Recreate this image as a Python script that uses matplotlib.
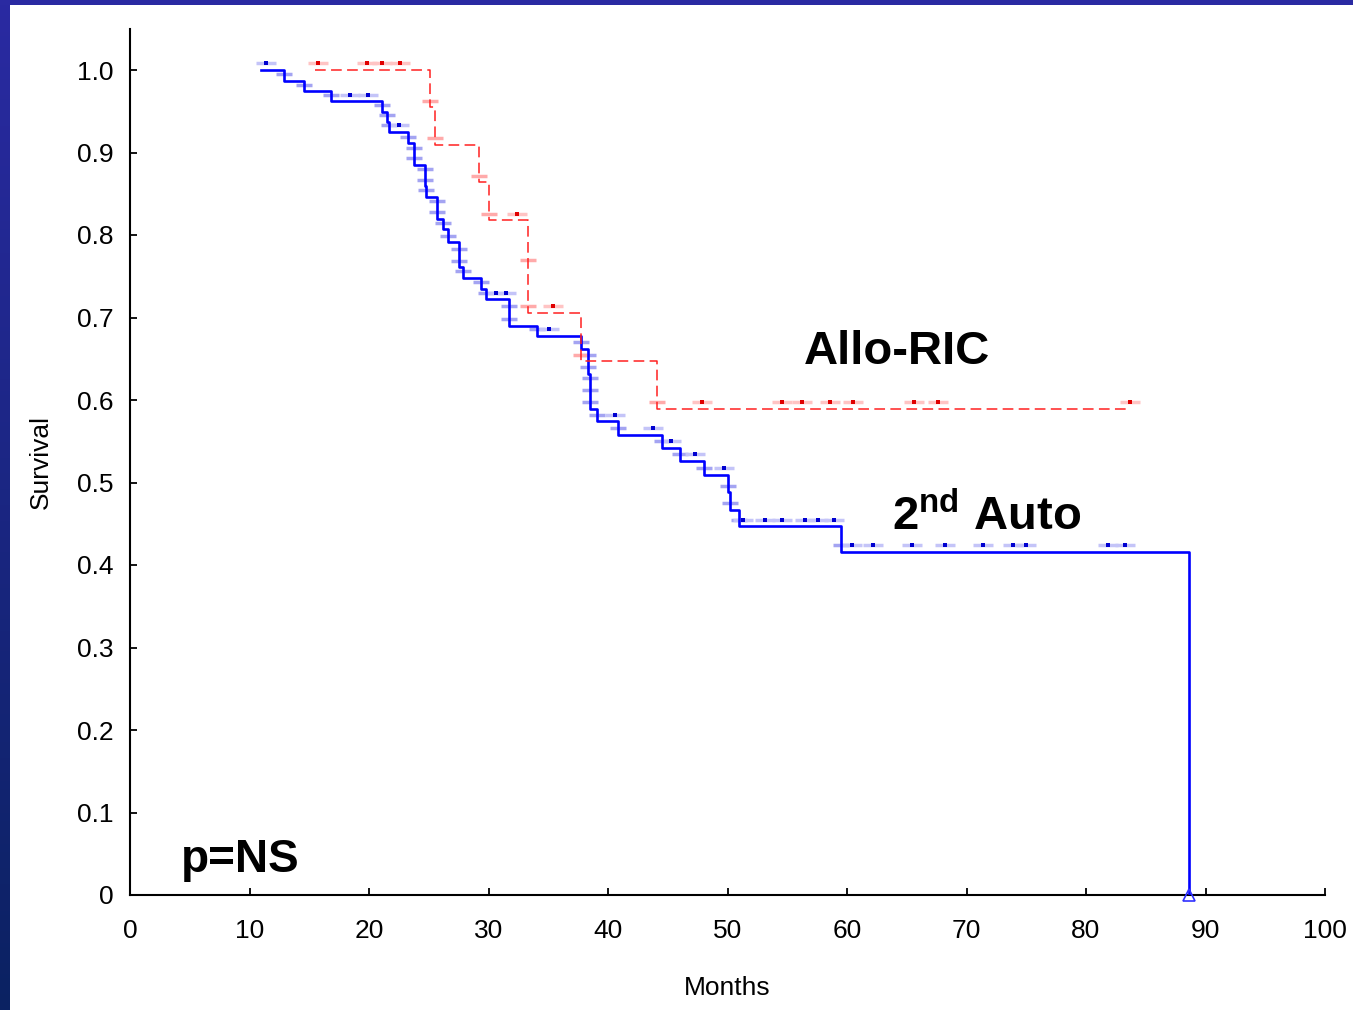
"""Kaplan-Meier survival: 2nd Auto vs Allo-RIC."""

import numpy as np
import matplotlib
matplotlib.use('Agg')
import matplotlib.pyplot as plt
from matplotlib.colors import LinearSegmentedColormap
from matplotlib.patches import Rectangle

from matplotlib import rc
rc('font', family=['Liberation Sans', 'DejaVu Sans'])
rc('mathtext', fontset='custom', rm='Liberation Sans', bf='Liberation Sans:bold')

# 2nd Auto arm: event times (months) and survival after each event
auto_start = 11.0
auto_event_t = [12.9, 14.6, 16.8, 21.1, 21.5, 21.7, 23.3, 23.8, 23.8, 24.7,
                24.7, 24.8, 25.7, 25.7, 26.2, 26.6, 27.5, 27.5, 27.9, 29.4,
                29.8, 31.7, 31.7, 34.1, 37.7, 38.3, 38.3, 38.5, 38.5, 38.5,
                39.1, 40.8, 44.5, 46.0, 48.0, 50.0, 50.2, 51.0, 59.5, 88.6]
auto_event_s = [0.987, 0.974, 0.962, 0.949, 0.937, 0.925, 0.911, 0.898, 0.885, 0.872,
                0.859, 0.846, 0.833, 0.820, 0.807, 0.791, 0.775, 0.761, 0.748, 0.735,
                0.722, 0.706, 0.690, 0.678, 0.662, 0.647, 0.632, 0.619, 0.604, 0.589,
                0.574, 0.558, 0.542, 0.526, 0.509, 0.488, 0.467, 0.447, 0.416, 0.0]
auto_cens_t = [11.4, 18.4, 19.9, 22.5, 30.6, 31.5, 35.1, 40.6, 43.8, 45.3,
               47.3, 49.7, 51.3, 53.1, 54.6, 56.5, 57.6, 58.9, 60.4, 62.2,
               65.4, 68.2, 71.4, 73.9, 75.0, 81.8, 83.3]

# Allo-RIC arm
allo_start = 15.5
allo_end = 83.7
allo_event_t = [25.1, 25.5, 29.2, 30.0, 33.3, 33.3, 37.7, 44.1]
allo_event_s = [0.955, 0.909, 0.864, 0.818, 0.762, 0.706, 0.647, 0.589]
allo_cens_t = [15.7, 19.8, 21.1, 22.6, 32.4, 35.4, 47.9, 54.6, 56.2, 58.6,
               60.5, 65.6, 67.6, 83.7]

x_ticks = [0, 10, 20, 30, 40, 50, 60, 70, 80, 90, 100]
y_ticks = [0, 0.1, 0.2, 0.3, 0.4, 0.5, 0.6, 0.7, 0.8, 0.9, 1.0]
y_ticklabels = ['0', '0.1', '0.2', '0.3', '0.4', '0.5', '0.6', '0.7', '0.8', '0.9', '1.0']


def level_at(t, ev_t, ev_s):
    i = np.searchsorted(ev_t, t, side='right')
    return 1.0 if i == 0 else ev_s[i - 1]


def draw_marks(ax, ev_t, ev_s, cens_t, bar_col, cens_bar_col, dot_col):
    off = 0.008
    et = [t for t, s in zip(ev_t, ev_s) if s > 0]
    es = [s + off for s in ev_s if s > 0]
    ax.plot(et, es, ls='none', marker='_', ms=12, mew=2.5, color=bar_col, zorder=2)
    cs = [level_at(t, ev_t, ev_s) + off for t in cens_t]
    ax.plot(cens_t, cs, ls='none', marker='_', ms=14, mew=2.5, color=cens_bar_col, zorder=2)
    ax.plot(cens_t, cs, ls='none', marker='s', ms=2.2, mew=0, color=dot_col, zorder=4)


def make_plot():
    fig = plt.figure(figsize=(13.53, 10.10), dpi=100)
    fig.patch.set_facecolor('white')

    # slide frame: gradient strip on the left, band on top
    strip = fig.add_axes([0, 0, 10 / 1353, 1])
    cmap = LinearSegmentedColormap.from_list('frame', ['#0b2262', '#2a2aa2'])
    strip.imshow(np.linspace(0, 1, 256).reshape(-1, 1), aspect='auto', cmap=cmap, origin='lower')
    strip.set_axis_off()
    fig.patches.append(Rectangle((0, 1 - 5 / 1010), 1, 5 / 1010, transform=fig.transFigure,
                                 facecolor='#2a2aa2', edgecolor='none'))

    ax = fig.add_axes([130 / 1353, 115 / 1010, 1195 / 1353, 866.25 / 1010])

    # 2nd Auto
    ax.plot([auto_start] + auto_event_t, [1.0] + auto_event_s, drawstyle='steps-post',
            color='#0000ff', lw=1.9, zorder=3)
    draw_marks(ax, auto_event_t, auto_event_s, auto_cens_t, '#a4a4f2', '#c4c4f8', '#0000d0')
    ax.plot([auto_event_t[-1]], [0.0], ls='none', marker='^', ms=9, mfc='none',
            mec='#3030ff', mew=1.2, zorder=4, clip_on=False)

    # Allo-RIC
    ax.plot([allo_start] + allo_event_t + [allo_end], [1.0] + allo_event_s + [allo_event_s[-1]],
            drawstyle='steps-post', color='#ff2020', lw=1.1, dashes=(7, 3.5), zorder=3)
    draw_marks(ax, allo_event_t, allo_event_s, allo_cens_t, '#ffaaaa', '#ffc4c4', '#e00000')

    ax.text(64.2, 0.658, 'Allo-RIC', fontsize=34, fontweight='bold', ha='center', va='center')
    ax.text(71.7, 0.458, r'$\mathbf{2^{nd}}$ Auto', fontsize=34, fontweight='bold',
            ha='center', va='center')
    ax.text(9.2, 0.042, 'p=NS', fontsize=33, fontweight='bold', ha='center', va='center')

    ax.set_xlim(0, 100)
    ax.set_ylim(0, 1.05)
    ax.set_xticks(x_ticks)
    ax.set_yticks(y_ticks)
    ax.set_yticklabels(y_ticklabels)
    for side in ['top', 'right']:
        ax.spines[side].set_visible(False)
    for side in ['left', 'bottom']:
        ax.spines[side].set_linewidth(1.5)
    ax.tick_params(direction='in', length=5, width=1.3, labelsize=19)
    ax.tick_params(axis='x', pad=17)
    ax.tick_params(axis='y', pad=12)

    ax.set_xlabel('Months', fontsize=19, labelpad=24)
    ax.set_ylabel('Survival', fontsize=19, labelpad=17)

    fig.savefig('out.png', dpi=100)


if __name__ == '__main__':
    make_plot()
